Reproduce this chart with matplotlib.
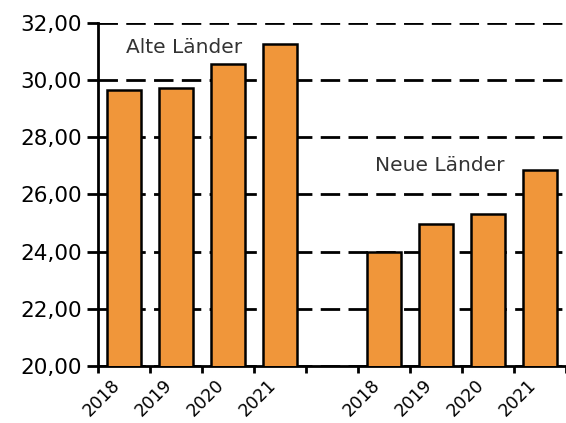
import numpy as np
import matplotlib.pyplot as plt

years = ['2018', '2019', '2020', '2021']
alte = [29.65, 29.72, 30.56, 31.26]
neue = [23.98, 24.96, 25.30, 26.86]
y_ticks = [20, 22, 24, 26, 28, 30, 32]

bar_color = '#F0963A'

fig = plt.figure(figsize=(5.66, 4.23), dpi=100)
ax = fig.add_axes([0.173, 0.135, 0.827, 0.811])

x_alte = np.arange(len(years))
x_neue = np.arange(len(years)) + len(years) + 1

ax.bar(x_alte, alte, width=0.66, color=bar_color, edgecolor='black', linewidth=1.8, zorder=3)
ax.bar(x_neue, neue, width=0.66, color=bar_color, edgecolor='black', linewidth=1.8, zorder=3)

ax.set_xlim(-0.5, x_neue[-1] + 0.5)
ax.set_ylim(20, 32)

ax.set_yticks(y_ticks)
ax.set_yticklabels([('%.2f' % v).replace('.', ',') for v in y_ticks], fontsize=15.5)

ax.set_xticks(list(x_alte) + list(x_neue))
ax.set_xticklabels(years + years, rotation=45, ha='right', fontsize=12.5)
ax.set_xticks(np.arange(-0.5, x_neue[-1] + 1, 1), minor=True)
ax.tick_params(axis='x', which='major', length=0, pad=7)
ax.tick_params(axis='x', which='minor', length=5, width=2)
ax.tick_params(axis='y', length=8, width=2)

for s in ['top', 'right']:
    ax.spines[s].set_visible(False)
ax.spines['left'].set_linewidth(2)
ax.spines['bottom'].set_linewidth(2)

ax.yaxis.grid(True, color='black', linewidth=2, linestyle=(0, (7, 3)), zorder=0)
ax.set_axisbelow(True)

ax.text(1.16, 31.15, 'Alte Länder', fontsize=14.5, color='#333333', ha='center', va='center')
ax.text(6.07, 27.0, 'Neue Länder', fontsize=14.5, color='#333333', ha='center', va='center')

plt.savefig('out.png', dpi=100)
